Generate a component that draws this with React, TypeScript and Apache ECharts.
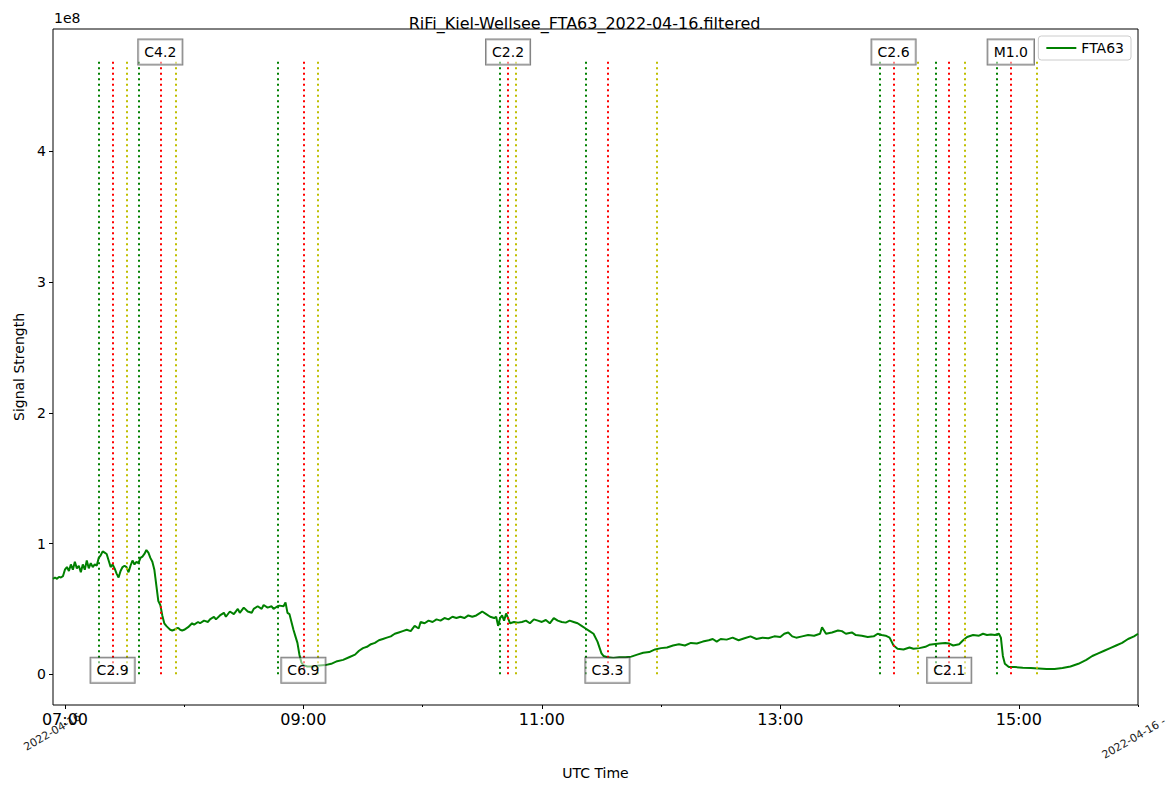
import React, { useEffect, useRef } from "react";
import * as echarts from "echarts";

// ---------- data ----------
const titleText = "RiFi_Kiel-Wellsee_FTA63_2022-04-16.filtered";
const seriesName = "FTA63";
const xAxisName = "UTC Time";
const yAxisName = "Signal Strength";
const yScaleText = "1e8";
const dateLabelStart = "2022-04-16";
const dateLabelEnd = "2022-04-16 -";

const xRange = ["06:54", "16:00"];
const yRange = [-0.235, 4.935];
const xMajorTicks = ["07:00", "09:00", "11:00", "13:00", "15:00"];
const xMinorTicks = ["08:00", "10:00", "12:00", "14:00", "16:00"];
const yTicks = [0, 1, 2, 3, 4];

// signal strength in units of 1e8
const signalTimes = [
  "06:54","06:55","06:56","06:57","06:58","06:59","07:00","07:01","07:02","07:03",
  "07:04","07:05","07:06","07:07","07:08","07:09","07:10","07:11","07:12","07:13",
  "07:14","07:15","07:16","07:17","07:18","07:19","07:20","07:21","07:22","07:23",
  "07:24","07:25","07:26","07:27","07:28","07:29","07:30","07:31","07:32","07:33",
  "07:34","07:35","07:36","07:37","07:38","07:39","07:40","07:41","07:42","07:43",
  "07:44","07:45","07:46","07:47","07:48","07:49","07:50","07:51","07:52","07:53",
  "07:54","07:55","07:56","07:57","07:58","07:59","08:00","08:02","08:04","08:05",
  "08:07","08:08","08:10","08:12","08:13","08:15","08:16","08:18","08:20","08:21",
  "08:23","08:25","08:27","08:28","08:30","08:32","08:34","08:35","08:37","08:39",
  "08:40","08:42","08:44","08:45","08:47","08:48","08:50","08:51","08:52","08:53",
  "08:54","08:55","08:56","08:57","08:58","08:59","09:00","09:02","09:05","09:08",
  "09:11","09:14","09:17","09:20","09:23","09:26","09:28","09:30","09:32","09:34",
  "09:36","09:38","09:40","09:42","09:44","09:46","09:48","09:50","09:52","09:54",
  "09:56","09:58","09:59","10:01","10:03","10:05","10:07","10:09","10:11","10:13",
  "10:15","10:17","10:19","10:21","10:23","10:25","10:27","10:29","10:30","10:32",
  "10:34","10:36","10:37","10:38","10:39","10:40","10:41","10:42","10:43","10:44",
  "10:46","10:48","10:50","10:52","10:54","10:56","10:58","11:00","11:02","11:04",
  "11:06","11:08","11:10","11:12","11:14","11:16","11:18","11:20","11:22","11:24",
  "11:26","11:28","11:30","11:31","11:33","11:36","11:39","11:42","11:45","11:48",
  "11:51","11:54","11:57","12:00","12:03","12:06","12:09","12:12","12:15","12:18",
  "12:21","12:24","12:26","12:28","12:30","12:33","12:36","12:39","12:42","12:45",
  "12:48","12:51","12:54","12:57","13:00","13:02","13:04","13:06","13:08","13:11",
  "13:14","13:17","13:20","13:21","13:23","13:26","13:29","13:31","13:33","13:36",
  "13:38","13:41","13:44","13:47","13:49","13:51","13:53","13:55","13:57","13:59",
  "14:02","14:05","14:07","14:10","14:13","14:15","14:17","14:20","14:23","14:25",
  "14:27","14:30","14:32","14:34","14:37","14:40","14:42","14:44","14:46","14:48",
  "14:50","14:51","14:52","14:53","14:55","14:58","15:02","15:06","15:10","15:14",
  "15:18","15:22","15:26","15:30","15:34","15:37","15:40","15:43","15:46","15:49",
  "15:52","15:55","15:58","16:00",
];
const signalValues = [
  0.73,0.74,0.73,0.745,0.74,0.75,0.80,0.82,0.79,0.84,
  0.80,0.86,0.81,0.83,0.78,0.84,0.80,0.87,0.81,0.85,
  0.82,0.84,0.83,0.89,0.91,0.94,0.93,0.92,0.87,0.82,
  0.84,0.81,0.77,0.74,0.79,0.82,0.83,0.82,0.78,0.83,
  0.87,0.84,0.86,0.85,0.89,0.90,0.92,0.95,0.93,0.89,
  0.86,0.80,0.68,0.56,0.53,0.45,0.39,0.37,0.355,0.34,
  0.335,0.34,0.35,0.355,0.34,0.335,0.34,0.36,0.39,0.38,
  0.40,0.39,0.41,0.40,0.42,0.44,0.42,0.45,0.47,0.44,
  0.48,0.46,0.50,0.47,0.51,0.48,0.47,0.50,0.52,0.50,
  0.53,0.51,0.52,0.50,0.52,0.525,0.52,0.55,0.47,0.46,
  0.40,0.34,0.29,0.24,0.15,0.09,0.07,0.06,0.06,0.068,
  0.07,0.08,0.10,0.11,0.13,0.15,0.18,0.20,0.21,0.23,
  0.24,0.26,0.27,0.28,0.29,0.31,0.32,0.33,0.34,0.33,
  0.37,0.35,0.40,0.39,0.41,0.40,0.42,0.41,0.43,0.42,
  0.44,0.43,0.44,0.43,0.45,0.44,0.45,0.47,0.48,0.46,
  0.44,0.43,0.44,0.37,0.43,0.45,0.41,0.465,0.43,0.39,
  0.40,0.395,0.40,0.41,0.39,0.42,0.41,0.40,0.415,0.39,
  0.43,0.41,0.40,0.395,0.41,0.40,0.39,0.37,0.35,0.33,
  0.31,0.25,0.16,0.14,0.13,0.125,0.13,0.13,0.135,0.15,
  0.165,0.17,0.19,0.20,0.205,0.22,0.23,0.22,0.24,0.235,
  0.25,0.26,0.27,0.25,0.27,0.265,0.28,0.26,0.275,0.29,
  0.27,0.28,0.275,0.29,0.285,0.31,0.32,0.29,0.28,0.29,
  0.30,0.295,0.31,0.36,0.31,0.32,0.335,0.33,0.31,0.32,
  0.30,0.295,0.285,0.29,0.31,0.30,0.295,0.28,0.22,0.195,
  0.19,0.205,0.195,0.20,0.21,0.225,0.23,0.235,0.24,0.235,
  0.22,0.23,0.26,0.285,0.30,0.295,0.31,0.30,0.305,0.30,
  0.31,0.28,0.14,0.08,0.055,0.055,0.05,0.048,0.045,0.04,
  0.04,0.048,0.06,0.08,0.11,0.14,0.16,0.18,0.20,0.22,
  0.24,0.27,0.29,0.31,
];

// flare events
const flareClasses = ["C2.9", "C4.2", "C6.9", "C2.2", "C3.3", "C2.6", "C2.1", "M1.0"];
const flareStart = ["07:17", "07:37", "08:47", "10:39", "11:22", "13:50", "14:18", "14:49"];
const flarePeak = ["07:24", "07:48", "09:00", "10:43", "11:33", "13:57", "14:25", "14:56"];
const flareEnd = ["07:31", "07:56", "09:07", "10:47", "11:58", "14:09", "14:33", "15:09"];
const flareLabelSide = ["bottom", "top", "bottom", "top", "bottom", "top", "bottom", "top"];
const flareLineTop = 4.7;
const flareLabelLevel: Record<string, number> = { top: 4.76, bottom: 0.03 };

// ---------- helpers ----------
const toMin = (s: string) => {
  const [h, m] = s.split(":").map(Number);
  return h * 60 + m;
};
const fmtMin = (v: number) => {
  const h = Math.floor(v / 60);
  const m = Math.round(v - h * 60);
  return `${String(h).padStart(2, "0")}:${String(m).padStart(2, "0")}`;
};

const FONT = "DejaVu Sans";
const GREEN = "#008000";
const RED = "#ff0000";
const YELLOW = "#bfbf00";

function vlineSeries(name: string, times: string[], color: string) {
  return {
    name,
    type: "line",
    data: [],
    silent: true,
    z: 2,
    markLine: {
      silent: true,
      symbol: ["none", "none"],
      label: { show: false },
      emphasis: { disabled: true },
      lineStyle: { color, width: 2, type: [2.1, 3.4], opacity: 1 },
      data: times.map((t) => [
        { coord: [toMin(t), 0] },
        { coord: [toMin(t), flareLineTop] },
      ]),
    },
  };
}

export default function App() {
  const ref = useRef<HTMLDivElement>(null);

  useEffect(() => {
    document.body.style.margin = "0";
    if (!ref.current) return;
    const chart = echarts.init(ref.current, undefined, { renderer: "svg" });

    const option: any = {
      animation: false,
      textStyle: { fontFamily: FONT, color: "#000" },
      title: {
        text: titleText,
        left: "center",
        top: 10,
        textStyle: { fontFamily: FONT, fontSize: 16, fontWeight: "normal", color: "#000" },
      },
      legend: {
        data: [seriesName],
        right: 38,
        top: 36,
        orient: "vertical",
        icon: "rect",
        itemWidth: 30,
        itemHeight: 2,
        padding: [5, 7, 5, 8],
        borderColor: "#cccccc",
        borderWidth: 1,
        borderRadius: 3,
        backgroundColor: "rgba(255,255,255,0.8)",
        textStyle: { fontFamily: FONT, fontSize: 14, color: "#000" },
      },
      grid: {
        left: 53,
        right: 31,
        top: 29,
        bottom: 87,
        show: true,
        borderColor: "#000",
        borderWidth: 1,
        backgroundColor: "transparent",
        containLabel: false,
      },
      xAxis: [
        {
          type: "value",
          min: toMin(xRange[0]),
          max: toMin(xRange[1]),
          position: "bottom",
          axisLine: { show: false, onZero: false },
          splitLine: { show: false },
          axisTick: {
            show: true,
            customValues: xMajorTicks.map(toMin),
            length: 4,
            lineStyle: { color: "#000", width: 1 },
          },
          axisLabel: {
            customValues: xMajorTicks.map(toMin),
            formatter: (v: number) => fmtMin(v),
            fontFamily: FONT,
            fontSize: 16,
            color: "#000",
            margin: 6,
          },
          name: xAxisName,
          nameLocation: "middle",
          nameGap: 61,
          nameTextStyle: { fontFamily: FONT, fontSize: 14, color: "#000" },
        },
        {
          type: "value",
          min: toMin(xRange[0]),
          max: toMin(xRange[1]),
          position: "bottom",
          axisLine: { show: false, onZero: false },
          splitLine: { show: false },
          axisLabel: { show: false },
          axisTick: {
            show: true,
            customValues: xMinorTicks.map(toMin),
            length: 2,
            lineStyle: { color: "#000", width: 1 },
          },
        },
      ],
      yAxis: {
        type: "value",
        min: yRange[0],
        max: yRange[1],
        axisLine: { show: false, onZero: false },
        splitLine: { show: false },
        axisTick: {
          show: true,
          customValues: yTicks,
          length: 4,
          lineStyle: { color: "#000", width: 1 },
        },
        axisLabel: {
          customValues: yTicks,
          fontFamily: FONT,
          fontSize: 14,
          color: "#000",
          margin: 7,
        },
        name: yAxisName,
        nameLocation: "middle",
        nameGap: 25,
        nameRotate: 90,
        nameTextStyle: { fontFamily: FONT, fontSize: 14, color: "#000" },
      },
      series: [
        vlineSeries("start", flareStart, GREEN),
        vlineSeries("peak", flarePeak, RED),
        vlineSeries("end", flareEnd, YELLOW),
        {
          name: seriesName,
          type: "line",
          xAxisIndex: 0,
          data: signalTimes.map((t, i) => [toMin(t), signalValues[i]]),
          showSymbol: false,
          symbol: "none",
          color: GREEN,
          lineStyle: { color: GREEN, width: 2 },
          z: 3,
          silent: true,
        },
        {
          name: "flares",
          type: "scatter",
          symbol: "rect",
          symbolSize: 0,
          z: 5,
          silent: true,
          itemStyle: { opacity: 1, color: "transparent" },
          data: flareClasses.map((c, i) => ({
            name: c,
            value: [toMin(flarePeak[i]), flareLabelLevel[flareLabelSide[i]]],
          })),
          label: {
            show: true,
            position: "inside",
            formatter: (p: any) => p.name,
            fontFamily: FONT,
            fontSize: 14,
            color: "#000",
            opacity: 1,
            backgroundColor: "rgba(255,255,255,0.5)",
            borderColor: "rgba(0,0,0,0.5)",
            borderWidth: 1,
            padding: [5, 6, 4, 6],
            lineHeight: 16,
          },
        },
      ],
      graphic: [
        {
          type: "text",
          left: 54,
          top: 11,
          style: { text: yScaleText, font: `14px "${FONT}"`, fill: "#000" },
        },
        {
          type: "text",
          x: 80,
          y: 716,
          rotation: Math.PI / 6,
          style: {
            text: dateLabelStart,
            font: `11px "${FONT}"`,
            fill: "#222",
            align: "right",
            verticalAlign: "middle",
          },
        },
        {
          type: "text",
          x: 1103,
          y: 756,
          rotation: Math.PI / 6,
          style: {
            text: dateLabelEnd,
            font: `11px "${FONT}"`,
            fill: "#222",
            align: "left",
            verticalAlign: "middle",
          },
        },
      ],
    };

    chart.setOption(option);
    return () => chart.dispose();
  }, []);

  return <div ref={ref} style={{ width: 1169, height: 792, overflow: "hidden" }} />;
}
